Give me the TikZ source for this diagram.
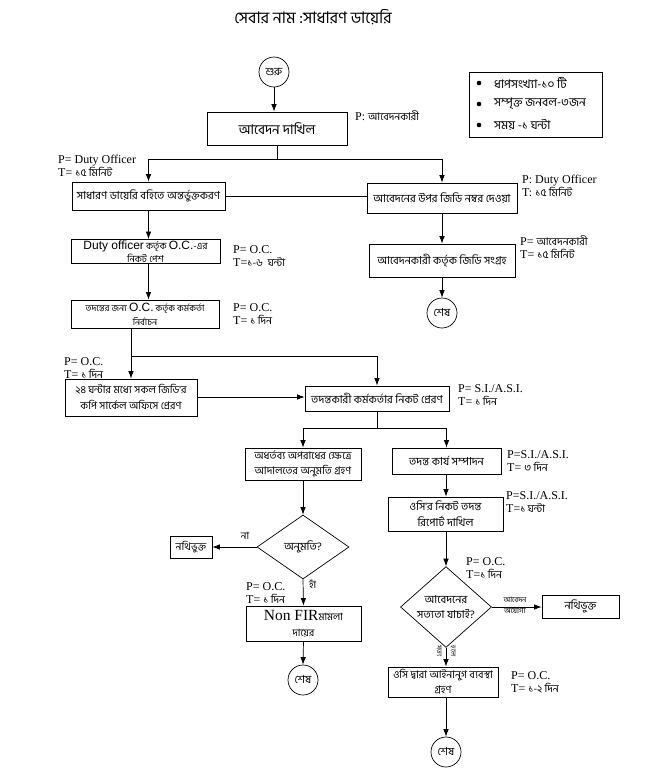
\documentclass[tikz,border=0pt]{standalone}
\usepackage{fontspec}
\setmainfont{Liberation Serif}
\setsansfont{Liberation Sans}
\newfontfamily\bn[Script=Bengali]{Hind Siliguri}
\usetikzlibrary{arrows.meta,shapes.geometric}
\newcommand{\bnl}{\bn\fontsize{10.5}{12}\selectfont}
\newcommand{\lsf}{\sffamily\fontsize{12}{12}\selectfont}
\begin{document}
\begin{tikzpicture}[x=1pt,y=-1pt,
  box/.style={draw,line width=0.8pt,inner sep=0.5pt,align=center,font=\bn\fontsize{11}{15}\selectfont},
  endc/.style={draw,circle,line width=0.7pt,minimum size=30pt,inner sep=0pt,font=\bn\fontsize{11}{12}\selectfont},
  dia/.style={draw,diamond,line width=0.7pt,inner sep=0pt,align=center,font=\bn\fontsize{11}{15}\selectfont},
  lab/.style={anchor=west,align=left,inner sep=0pt,font=\fontsize{12}{13}\selectfont},
  arr/.style={line width=0.7pt,-{Latex[length=7.5pt,width=5.5pt]}},
  ln/.style={line width=0.7pt}]
\useasboundingbox (0,0) rectangle (662,774);
\fill[white] (0,0) rectangle (662,774);
% title
\node[font=\bn\fontsize{16}{18}\selectfont] (title) at (313,17) {সেবার নাম :সাধারণ ডায়েরি};
% legend
\node[draw,line width=0.7pt,minimum width=133pt,minimum height=65pt,inner sep=0pt] (leg) at (535.5,104.5) {};
\foreach \yy/\tt in {83/ধাপসংখ্যা-১০ টি,104/সম্পৃক্ত জনবল-৩জন,125/সময় -১ ঘন্টা}{
  \fill (479,\yy) circle (2.3pt);
  \node[anchor=west,inner sep=0pt,font=\bn\fontsize{12}{13}\selectfont] at (494,\yy) {\tt};
}
% start
\node[endc] (start) at (274,72) {শুরু};
\node[box,minimum width=140pt,minimum height=33pt,font=\bn\fontsize{13.5}{15}\selectfont] (a1) at (277,128.5) {আবেদন দাখিল};
\node[lab] (la1) at (355,116) {P: {\bnl আবেদনকারী}};
\draw[arr] (start) -- (a1.north -| start);
\coordinate (j1) at (277,159);
\draw[ln] (a1.south) -- (j1);
% level 2
\node[box,minimum width=153pt,minimum height=28pt] (b1) at (148.5,196) {সাধারণ ডায়েরি বহিতে অন্তর্ভুক্তকরণ};
\node[box,minimum width=150pt,minimum height=30pt] (b2) at (442,198) {আবেদনের উপর জিডি নম্বর দেওয়া};
\draw[arr] (j1) -| (b1.north);
\draw[arr] (j1) -| (b2.north);
\draw[ln] (b1.east) -- (b1.east -| b2.west);
\node[lab] (lb1) at (58,166) {P= Duty Officer\\T= {\bnl ১৫ মিনিট}};
\node[lab] (lb2) at (522,186) {P: Duty Officer\\T: {\bnl ১৫ মিনিট}};
% right branch
\node[box,minimum width=146pt,minimum height=33pt] (b3) at (442,260.5) {আবেদনকারী কর্তৃক জিডি সংগ্রহ};
\node[lab] (lb3) at (520,247) {P= {\bnl আবেদনকারী}\\T= {\bnl ১৫ মিনিট}};
\draw[arr] (b2.south) -- (b3.north);
\node[endc] (end2) at (442,313) {শেষ};
\draw[arr] (b3.south) -- (end2.north);
% left column
\node[box,minimum width=149pt,minimum height=24pt,font=\bn\fontsize{9.5}{13}\selectfont] (c1) at (145.5,251.5) {{\lsf Duty officer} কর্তৃক {\lsf O.C.}-এর\\নিকট পেশ};
\node[lab] (lc1) at (233,256.5) {P= O.C.\\T={\bnl ১-৬\ \ ঘন্টা}};
\draw[arr] (b1.south) -- (b1.south |- c1.north);
\node[box,minimum width=148pt,minimum height=28pt,font=\bn\fontsize{9}{14}\selectfont] (c2) at (145,314) {তদন্তের জন্য {\lsf O.C.} কর্তৃক কর্মকর্তা\\নির্বাচন};
\node[lab] (lc2) at (233,314) {P= O.C.\\T= {\bnl ১ দিন}};
\draw[arr] (c1.south -| b1.south) -- (c2.north -| b1.south);
\coordinate (j2) at (131,356);
\node[box,minimum width=132pt,minimum height=37pt,font=\bn\fontsize{10.5}{16}\selectfont] (d1) at (131,397.5) {২৪ ঘন্টার মধ্যে সকল জিডি'র\\কপি সার্কেল অফিসে প্রেরণ};
\node[lab] (ld1) at (64,368.5) {P= O.C.\\T= {\bnl ১ দিন}};
\node[box,minimum width=144pt,minimum height=25pt] (d2) at (377,398.5) {তদন্তকারী কর্মকর্তার নিকট প্রেরণ};
\node[lab] (ld2) at (458,395) {P= S.I./A.S.I.\\T= {\bnl ১ দিন}};
\draw[ln] (c2.south -| j2) -- (j2);
\draw[arr] (j2) -- (d1.north -| j2);
\draw[arr] (j2) -| (d2.north);
\draw[arr] (d1.east |- 0,397) -- (d2.west |- 0,397);
\coordinate (j3) at (377,428);
\draw[ln] (d2.south) -- (j3);
% left sub-branch
\node[box,minimum width=116pt,minimum height=32pt,font=\bn\fontsize{10.5}{15}\selectfont] (e1) at (303,464) {অধর্তব্য অপরাধের ক্ষেত্রে\\আদালতের অনুমতি গ্রহণ};
\draw[arr] (j3) -| (e1.north);
\node[dia,minimum width=92pt,minimum height=64pt] (dm1) at (303,547) {অনুমতি?};
\draw[arr] (e1.south) -- (dm1.north);
\node[box,minimum width=42pt,minimum height=22pt,font=\bn\fontsize{10.5}{12}\selectfont] (n1) at (191,547) {নথিভুক্ত};
\draw[arr] (dm1.west) -- (n1.east);
\node[font=\bn\fontsize{10}{11}\selectfont,inner sep=0pt] (no) at (245,536) {না};
\node[box,minimum width=115pt,minimum height=35pt,font=\bn\fontsize{10}{16}\selectfont] (g1) at (303.5,623.5) {{\rmfamily\fontsize{15.5}{15}\selectfont Non FIR}মামলা\\দায়ের};
\draw[arr] (dm1.south) -- (g1.north);
\node[font=\bn\fontsize{10}{11}\selectfont,inner sep=0pt,anchor=west] (yes) at (309,584) {হাঁ};
\node[lab] (lg1) at (246,593) {P= O.C.\\T= {\bnl ১ দিন}};
\node[endc] (end1) at (303,680) {শেষ};
\draw[arr] (g1.south) -- (end1.north);
% right sub-branch
\node[box,minimum width=109pt,minimum height=26pt] (f1) at (446.5,461) {তদন্ত কার্য সম্পাদন};
\draw[arr] (j3) -| (f1.north);
\node[lab] (lf1) at (507,461.5) {P=S.I./A.S.I.\\T= {\bnl ৩ দিন}};
\node[box,minimum width=115pt,minimum height=34pt,font=\bn\fontsize{11}{16}\selectfont] (f2) at (445.5,514) {ওসি'র নিকট তদন্ত\\রিপোর্ট দাখিল};
\draw[arr] (f1.south -| 446,0) -- (f2.north -| 446,0);
\node[lab] (lf2) at (506,502.5) {P=S.I./A.S.I.\\T={\bnl ১ ঘন্টা}};
\node[dia,minimum width=91pt,minimum height=64pt] (dm2) at (446,607) {আবেদনের\\সত্যতা যাচাই?};
\draw[arr] (f2.south -| dm2.north) -- (dm2.north);
\node[lab] (ldm2) at (466,568) {P= O.C.\\T={\bnl ১ দিন}};
\node[box,minimum width=77pt,minimum height=23pt] (n2) at (580.5,606.5) {নথিভুক্ত};
\draw[arr] (dm2.east) -- (n2.west |- dm2.east);
\node[align=center,inner sep=0pt,font=\bn\fontsize{7.5}{11}\selectfont] (lno2) at (515,605) {আবেদন\\অযোগ্য};
\node[box,minimum width=110pt,minimum height=30pt,font=\bn\fontsize{10.5}{15}\selectfont] (f3) at (443,682) {ওসি দ্বারা আইনানুগ ব্যবস্থা\\গ্রহণ};
\draw[arr] (dm2.south) -- (dm2.south |- f3.north);
\node[rotate=-90,inner sep=0pt,font=\bn\fontsize{7}{7}\selectfont] (ly1) at (439,651) {সত্য};
\node[rotate=-90,inner sep=0pt,font=\bn\fontsize{7}{7}\selectfont] (ly2) at (453,651) {হলে};
\node[lab] (lf3) at (511,682) {P= O.C.\\T= {\bnl ১-২ দিন}};
\node[endc] (end3) at (446,752) {শেষ};
\draw[arr] (f3.south -| end3) -- (end3.north);
\end{tikzpicture}
\end{document}
